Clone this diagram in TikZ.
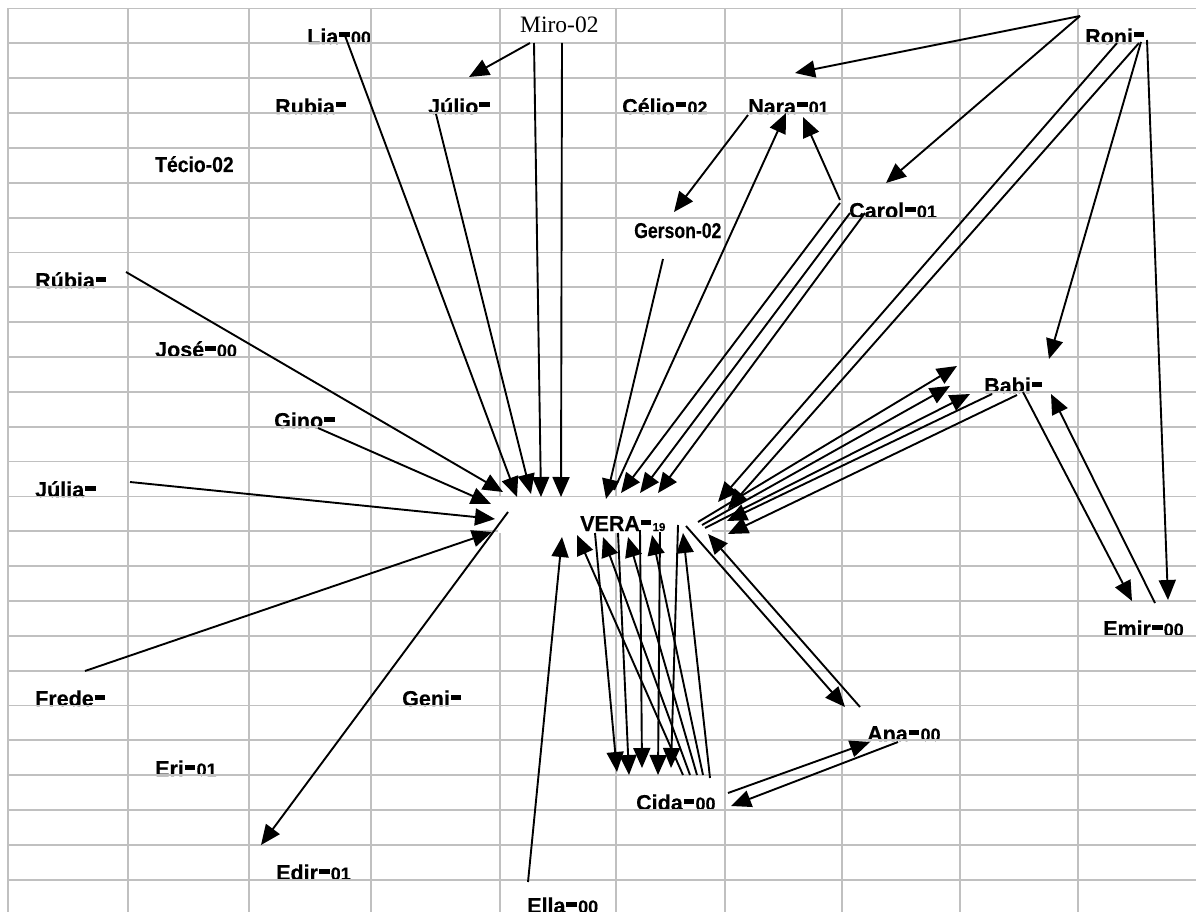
\documentclass[tikz,border=0pt]{standalone}
\usepackage{fontspec}
\usepackage{graphicx}
\newfontfamily\labfont[FakeBold=0.4]{Liberation Sans Bold}
\newfontfamily\tmsfont{Liberation Serif}
\usetikzlibrary{arrows.meta}
\definecolor{gridgray}{RGB}{192,192,192}
\newcommand\eqb{\kern1pt\rule[6.5pt]{10.5pt}{5pt}\kern1.2pt}
\newcommand\sdg[1]{{\fontsize{18}{18}\selectfont #1}}
\newcommand\tdg[1]{{\fontsize{11.5}{11.5}\selectfont #1}}
\newcommand\narrowtxt[2]{\scalebox{#1}[1]{#2}}
\begin{document}
\begin{tikzpicture}[x=1pt,y=-1pt,
  lab/.style={anchor=base west, inner sep=0pt, font=\labfont\fontsize{21.5}{21.5}\selectfont},
  serif/.style={anchor=base west, inner sep=0pt, font=\tmsfont\fontsize{23.5}{23.5}\selectfont},
  arr/.style={line width=1.9pt, -{Triangle[length=20pt,width=17pt]}},
  gridline/.style={draw=gridgray, line width=1.8pt}]
\useasboundingbox (0,0) rectangle (1196,912);
\fill[white] (0,0) rectangle (1196,912);
% ---------- labels ----------
\node[lab] (lia) at (307,44) {Lia\eqb\sdg{00}};
\node[serif] (miro) at (520,33) {Miro-02};
\node[lab] (roni) at (1085,44) {Roni\eqb};
\node[lab] (rubia) at (275,114) {Rubia\eqb};
\node[lab] (julio) at (428,114) {Júlio\eqb};
\node[lab] (celio) at (622,114) {Célio\eqb\sdg{02}};
\node[lab] (nara) at (748,114) {Nara\eqb\sdg{01}};
\node[lab] (tecio) at (155,172) {\narrowtxt{0.9}{Técio-02}};
\node[lab] (carol) at (849,218) {Carol\eqb\sdg{01}};
\node[lab] (gerson) at (634,238) {\narrowtxt{0.82}{Gerson-02}};
\node[lab] (rubia2) at (35,288) {Rúbia\eqb};
\node[lab] (jose) at (155,357) {José\eqb\sdg{00}};
\node[lab] (babi) at (984,393) {Babi\eqb};
\node[lab] (gino) at (274,428) {Gino\eqb};
\node[lab] (julia) at (35,497) {Júlia\eqb};
\node[lab] (emir) at (1103,636) {Emir\eqb\sdg{00}};
\node[lab] (frede) at (35,706) {Frede\eqb};
\node[lab] (geni) at (402,706) {Geni\eqb};
\node[lab] (ana) at (867,741) {Ana\eqb\sdg{00}};
\node[lab] (eri) at (155,776) {Eri\eqb\sdg{01}};
\node[lab] (cida) at (636,810) {Cida\eqb\sdg{00}};
\node[lab] (edir) at (276,880) {Edir\eqb\sdg{01}};
\node[lab] (ella) at (527,913) {Ella\eqb\sdg{00}};
% ---------- grid ----------
\foreach \gx in {8,128,249,371,500,616,725,842,960,1078}
  \draw[gridline] (\gx,8.5) -- (\gx,912);
\foreach \k in {0,...,25}
  \draw[gridline] (8,8.5+34.85*\k) -- (1196,8.5+34.85*\k);
\fill[white] (498,496.5) rectangle (712,533);
\node[lab] (vera) at (580,531) {VERA\eqb\tdg{19}};
% ---------- connector end points ----------
\coordinate (miroS1) at (530,43);  \coordinate (julT) at (469,77);
\coordinate (miroS2) at (534,43);  \coordinate (veM1) at (541,497);
\coordinate (miroS3) at (562,43);  \coordinate (veM2) at (561,497);
\coordinate (liaS) at (344,33);    \coordinate (veLia) at (517,497);
\coordinate (julS) at (436,114);   \coordinate (veJul) at (531,494);
\coordinate (rubS) at (126,272);   \coordinate (veRub) at (503,492);
\coordinate (ginoS) at (318,428);  \coordinate (veGino) at (491,504);
\coordinate (juliaS) at (130,482); \coordinate (veJulia) at (495,519);
\coordinate (fredS) at (85,671);   \coordinate (veFred) at (492,532);
\coordinate (veE) at (508,512);    \coordinate (edirT) at (261,845);
\coordinate (ellaS) at (528,882);  \coordinate (veElla) at (562,537);
\coordinate (gerS) at (663,259);   \coordinate (veGer) at (606,499);
\coordinate (veN) at (614,490);    \coordinate (naraT1) at (786,113);
\coordinate (carN) at (840,200);   \coordinate (naraT2) at (803,117);
\coordinate (naraS) at (748,115);  \coordinate (gerT) at (674,212);
\coordinate (carS1) at (840,203);  \coordinate (veC1) at (621,493);
\coordinate (carS2) at (850,213);  \coordinate (veC2) at (640,493);
\coordinate (carS3) at (865,213);  \coordinate (veC3) at (658,493);
\coordinate (roniA) at (1080,16);  \coordinate (naraT3) at (795,73);
\coordinate (carT) at (886,183);
\coordinate (roniS1) at (1117,43); \coordinate (veR1) at (718,502);
\coordinate (roniS2) at (1139,43); \coordinate (veR2) at (728,509);
\coordinate (roniS3) at (1141,42); \coordinate (babiT) at (1049,359);
\coordinate (roniS4) at (1147,40); \coordinate (emirT) at (1168,600);
\coordinate (babiS1) at (992,394); \coordinate (veB1) at (727,521);
\coordinate (babiS2) at (1017,395);\coordinate (veB2) at (728,534);
\coordinate (veS1) at (698,522);   \coordinate (babiT1) at (957,366);
\coordinate (veS2) at (702,525);   \coordinate (babiT2) at (950,386);
\coordinate (veS3) at (705,528);   \coordinate (babiT3) at (970,394);
\coordinate (babiE) at (1023,392); \coordinate (emirT2) at (1132,601);
\coordinate (emirS) at (1155,603); \coordinate (babiT4) at (1051,394);
\coordinate (veA) at (686,526);    \coordinate (anaT) at (845,707);
\coordinate (anaS) at (860,707);   \coordinate (veAna) at (708,534);
\coordinate (cidaA) at (728,793);  \coordinate (anaT2) at (870,742);
\coordinate (anaS2) at (898,742);  \coordinate (cidaT) at (731,806);
\coordinate (veD1) at (595,533);   \coordinate (cidaT1) at (617,772);
\coordinate (veD2) at (618,533);   \coordinate (cidaT2) at (629,775);
\coordinate (veD3) at (640,530);   \coordinate (cidaT3) at (642,768);
\coordinate (veD4) at (660,532);   \coordinate (cidaT4) at (658,775);
\coordinate (veD5) at (678,525);   \coordinate (cidaT5) at (671,768);
\coordinate (cidaS1) at (683,775); \coordinate (veU1) at (577,535);
\coordinate (cidaS2) at (690,775); \coordinate (veU2) at (603,537);
\coordinate (cidaS3) at (697,775); \coordinate (veU3) at (628,537);
\coordinate (cidaS4) at (703,775); \coordinate (veU4) at (652,535);
\coordinate (cidaS5) at (710,778); \coordinate (veU5) at (683,533);
% ---------- connectors ----------
\draw[arr] (miroS1) -- (julT);
\draw[arr] (miroS2) -- (veM1);
\draw[arr] (miroS3) -- (veM2);
\draw[arr] (liaS) -- (veLia);
\draw[arr] (julS) -- (veJul);
\draw[arr] (rubS) -- (veRub);
\draw[arr] (ginoS) -- (veGino);
\draw[arr] (juliaS) -- (veJulia);
\draw[arr] (fredS) -- (veFred);
\draw[arr] (veE) -- (edirT);
\draw[arr] (ellaS) -- (veElla);
\draw[arr] (gerS) -- (veGer);
\draw[arr] (veN) -- (naraT1);
\draw[arr] (carN) -- (naraT2);
\draw[arr] (naraS) -- (gerT);
\draw[arr] (carS1) -- (veC1);
\draw[arr] (carS2) -- (veC2);
\draw[arr] (carS3) -- (veC3);
\draw[arr] (roniA) -- (naraT3);
\draw[arr] (roniA) -- (carT);
\draw[arr] (roniS1) -- (veR1);
\draw[arr] (roniS2) -- (veR2);
\draw[arr] (roniS3) -- (babiT);
\draw[arr] (roniS4) -- (emirT);
\draw[arr] (babiS1) -- (veB1);
\draw[arr] (babiS2) -- (veB2);
\draw[arr] (veS1) -- (babiT1);
\draw[arr] (veS2) -- (babiT2);
\draw[arr] (veS3) -- (babiT3);
\draw[arr] (babiE) -- (emirT2);
\draw[arr] (emirS) -- (babiT4);
\draw[arr] (veA) -- (anaT);
\draw[arr] (anaS) -- (veAna);
\draw[arr] (cidaA) -- (anaT2);
\draw[arr] (anaS2) -- (cidaT);
\draw[arr] (veD1) -- (cidaT1);
\draw[arr] (veD2) -- (cidaT2);
\draw[arr] (veD3) -- (cidaT3);
\draw[arr] (veD4) -- (cidaT4);
\draw[arr] (veD5) -- (cidaT5);
\draw[arr] (cidaS1) -- (veU1);
\draw[arr] (cidaS2) -- (veU2);
\draw[arr] (cidaS3) -- (veU3);
\draw[arr] (cidaS4) -- (veU4);
\draw[arr] (cidaS5) -- (veU5);
\end{tikzpicture}
\end{document}
